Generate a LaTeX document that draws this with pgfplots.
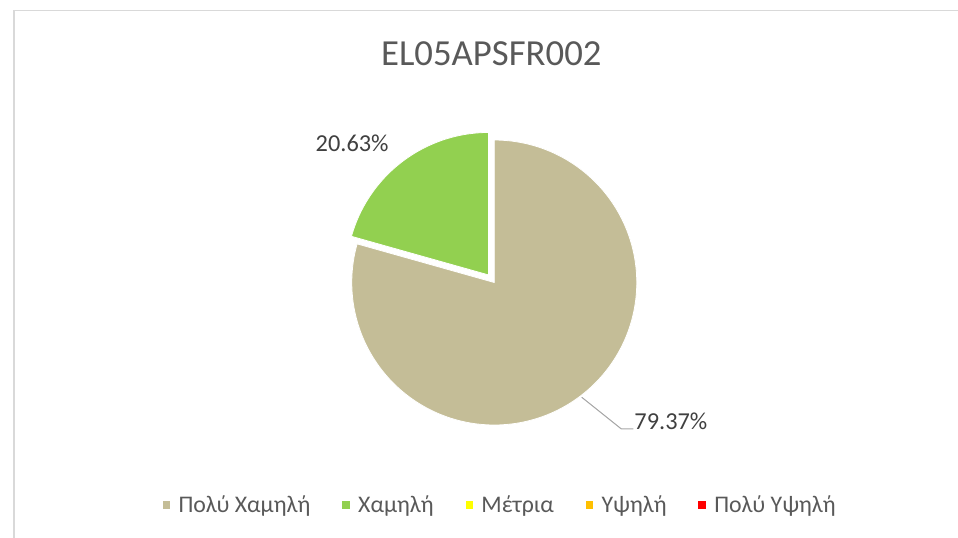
\documentclass[border=0pt]{standalone}
\usepackage{pgfplots}
\pgfplotsset{compat=1.18}
\usepackage{fontspec}
\setmainfont{Carlito}
\definecolor{tanc}{HTML}{C4BD97}
\definecolor{greenc}{HTML}{92D050}
\definecolor{yelc}{HTML}{FFFF00}
\definecolor{orac}{HTML}{FFC000}
\definecolor{redc}{HTML}{FF0000}
\definecolor{txt}{HTML}{595959}
\definecolor{txtd}{HTML}{404040}
\definecolor{leader}{HTML}{A6A6A6}
\definecolor{frame}{HTML}{D9D9D9}
% data (percent)
\def\vA{79.37}% Πολύ Χαμηλή
\def\vB{20.63}% Χαμηλή
\def\vC{0}% Μέτρια
\def\vD{0}% Υψηλή
\def\vE{0}% Πολύ Υψηλή
\pgfplotsset{sq/.style={legend image code/.code={\fill[#1] (0bp,-3.3bp) rectangle (6.6bp,3.3bp);}}}
\begin{document}
\pgfmathsetmacro\angA{\vA/(\vA+\vB)*360}
\pgfmathsetmacro\endA{90-\angA}
\pgfmathsetmacro\endB{90+\vB/(\vA+\vB)*360}
\begin{tikzpicture}
\begin{axis}[
  at={(0,0)}, anchor=south west,
  scale only axis, width=958bp, height=541bp,
  xmin=0, xmax=958, ymin=0, ymax=541, y dir=reverse,
  hide axis, clip=false,
  legend columns=5,
  legend style={draw=none, fill=none, at={(axis cs:497,508.5)}, anchor=center,
    font=\fontsize{24bp}{28bp}\selectfont, text=txt,
    /tikz/every odd column/.style={column sep=7bp},
    /tikz/every even column/.style={column sep=30bp}},
]
\addplot[forget plot, fill=tanc, draw=white, line width=0.8bp, domain=90:\endA, samples=240, variable=\t]
  ({491+143.5*cos(\t)},{284.5-143.5*sin(\t)}) -- (axis cs:491,284.5) -- cycle;
\addplot[forget plot, fill=greenc, draw=white, line width=0.8bp, domain=90:\endB, samples=80, variable=\t]
  ({485.3+143.5*cos(\t)},{276.9-143.5*sin(\t)}) -- (axis cs:485.3,276.9) -- cycle;
\addlegendimage{sq={tanc}}\addlegendentry{Πολύ Χαμηλή}
\addlegendimage{sq={greenc}}\addlegendentry{Χαμηλή}
\addlegendimage{sq={yelc}}\addlegendentry{Μέτρια}
\addlegendimage{sq={orac}}\addlegendentry{Υψηλή}
\addlegendimage{sq={redc}}\addlegendentry{Πολύ Υψηλή}
\draw[leader, line width=1bp] (axis cs:579,400) -- (axis cs:619,432) -- (axis cs:631,432);
\node[anchor=west, text=txtd, inner sep=0pt, font=\fontsize{24.5bp}{28bp}\selectfont] at (axis cs:632,424.5) {\vA\%};
\node[anchor=west, text=txtd, inner sep=0pt, font=\fontsize{24.5bp}{28bp}\selectfont] at (axis cs:311,144) {\vB\%};
\node[text=txt, inner sep=0pt, font=\fontsize{37bp}{42bp}\selectfont] at (axis cs:488,54.5) {EL05APSFR002};
\draw[frame, line width=1.5bp] (axis cs:7.5,560) -- (axis cs:7.5,10.5) -- (axis cs:980,10.5);
\end{axis}
\pgfresetboundingbox
\useasboundingbox (0,0) rectangle (958bp,541bp);
\end{tikzpicture}
\end{document}
